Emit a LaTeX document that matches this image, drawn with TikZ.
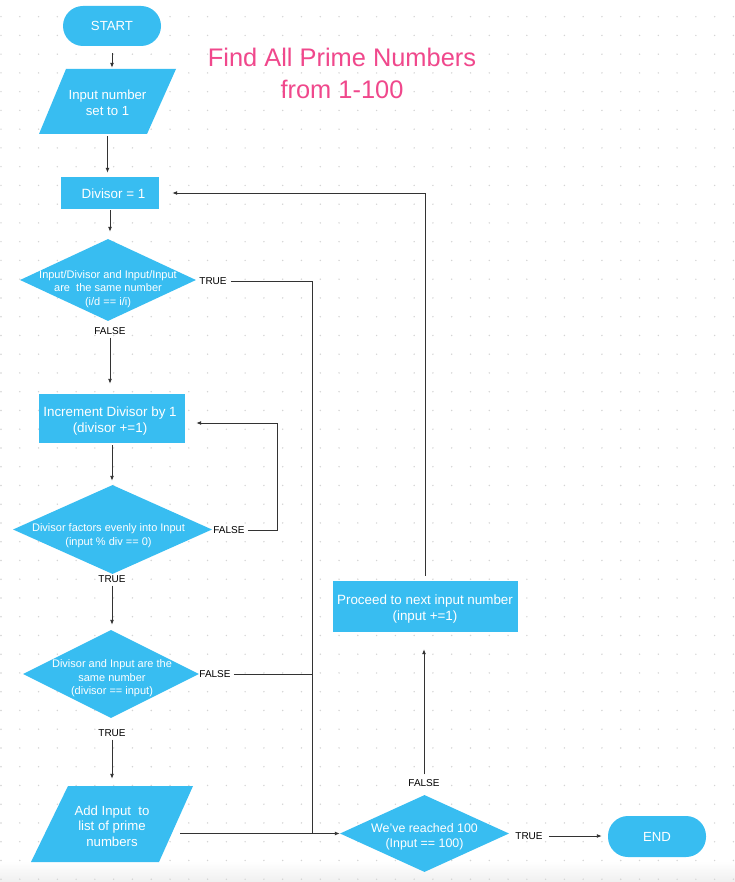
\documentclass[tikz,border=0pt]{standalone}
\usepackage{fontspec}
\setmainfont{Liberation Sans}
\usetikzlibrary{arrows.meta,shapes.geometric}
\definecolor{fcblue}{RGB}{56,189,241}
\definecolor{fcpink}{RGB}{240,72,140}
\definecolor{fcline}{RGB}{51,51,51}
\definecolor{fcdot}{RGB}{212,212,212}
\begin{document}
\begin{tikzpicture}[x=1pt,y=-1pt,
  box/.style={fill=fcblue,text=white,inner sep=0pt,align=center,font=\fontsize{13.2}{15.8}\selectfont},
  term/.style={box,rounded corners=20pt,minimum width=98pt,minimum height=40pt},
  procbox/.style={fill=fcblue,rectangle,inner sep=0pt},
  btext/.style={text=white,inner sep=0pt,align=center,font=\fontsize{13.4}{16}\selectfont},
  dshape/.style={diamond,fill=fcblue,inner sep=0pt},
  dtext/.style={text=white,inner sep=0pt,align=center,font=\fontsize{11}{13.6}\selectfont},
  ptext/.style={text=white,inner sep=0pt,align=center,font=\fontsize{13.2}{15.6}\selectfont},
  lab/.style={inner sep=1pt,font=\fontsize{10}{11}\selectfont,text=black},
  conn/.style={draw=fcline,line width=0.9pt},
  arr/.style={conn,-{Latex[length=5pt,width=4pt]}}
]
\useasboundingbox (0,0) rectangle (735,882);
\fill[white] (0,0) rectangle (735,882);
\shade[top color=white,bottom color=black!6] (0,861) rectangle (735,882);
\foreach \i in {0,...,39}{
  \foreach \j in {0,...,46}{
    \fill[fcdot] ({1+18.78*\i},{16.7+18.75*\j}) circle (0.8pt);
  }
}

% title
\node[text=fcpink,align=center,font=\fontsize{25.4}{32}\selectfont] (title) at (342,73) {Find All Prime Numbers\\from 1-100};

% terminals
\node[term] (start) at (112,26) {START};
\node[term,minimum height=41pt] (end) at (657,836.5) {\raisebox{-1pt}{END}};

% parallelograms
\fill[fcblue] (66,69) -- (176,69) -- (147,134) -- (39,134) -- cycle;
\node[minimum width=110pt,minimum height=65pt,inner sep=0pt] (p1) at (107.5,101.5) {};
\node[ptext] (p1t) at (107.5,102.5) {Input number\\set to 1};
\fill[fcblue] (68,786) -- (193,786) -- (159,862) -- (31,862) -- cycle;
\node[minimum width=136pt,minimum height=76pt,inner sep=0pt] (p2) at (112,824) {};
\node[ptext] (p2t) at (112,826) {Add Input~ to\\list of prime\\numbers};

% process boxes
\node[procbox,minimum width=98pt,minimum height=32pt] (div1) at (110,193) {};
\node[btext] (div1t) at (113.5,194) {Divisor = 1};
\node[procbox,minimum width=146pt,minimum height=49pt] (r2) at (112,418.5) {};
\node[btext] (r2t) at (110,421) {Increment Divisor by 1\\(divisor +=1)};
\node[procbox,minimum width=185pt,minimum height=51pt] (r3) at (425,606.5) {};
\node[btext] (r3t) at (425,609) {Proceed to next input number\\(input +=1)};

% decisions
\node[dshape,minimum width=176pt,minimum height=82pt] (d1) at (108,280) {};
\node[dtext] (d1t) at (108,289) {Input/Divisor and Input/Input\\are~ the same number\\(i/d == i/i)};
\node[dshape,minimum width=199pt,minimum height=89pt] (d2) at (112.5,529.5) {};
\node[dtext] (d2t) at (108.5,535.5) {Divisor factors evenly into Input\\(input \% div == 0)};
\node[dshape,minimum width=176pt,minimum height=88pt] (d3) at (111,674) {};
\node[dtext] (d3t) at (112,678.5) {Divisor and Input are the\\same number\\(divisor == input)};
\node[dshape,minimum width=169pt,minimum height=77pt] (d4) at (424.5,833.5) {};
\node[dtext,font=\fontsize{12.4}{15.5}\selectfont] (d4t) at (424.5,837) {We've reached 100\\(Input == 100)};

% labels
\node[lab] (t1) at (213,281) {TRUE};
\node[lab] (f1) at (110,331) {FALSE};
\node[lab] (f2) at (229,530) {FALSE};
\node[lab] (t2) at (112,579) {TRUE};
\node[lab] (f3) at (215,674) {FALSE};
\node[lab] (t3) at (112,733) {TRUE};
\node[lab] (t4) at (529,836) {TRUE};
\node[lab] (f4) at (424,783) {FALSE};

\coordinate (jn) at (312,833);
\coordinate (lp) at (277,423);

% connectors
\draw[arr,shorten <=7pt,shorten >=1pt] (start.south) -- (start.south |- p1.north);
\draw[arr,shorten <=2pt,shorten >=4pt] (p1.south) -- (p1.south |- div1.north);
\draw[arr,shorten <=1pt,shorten >=7pt] (div1.south) -- (div1.south |- d1.north);
\draw[arr,shorten <=2pt,shorten >=10pt] (f1.south) -- (f1.south |- r2.north);
\draw[conn,shorten <=3pt] (t1.east) -- (t1.east -| jn) -- (jn);
\draw[arr,shorten <=2pt,shorten >=4pt] (r2.south) -- (r2.south |- d2.north);
\draw[arr,shorten <=2pt] (f2.east) -| (lp) -- ([xshift=11pt]r2.east |- lp);
\draw[arr,shorten <=2pt,shorten >=5pt] (t2.south) -- (t2.south |- d3.north);
\draw[conn,shorten <=2pt] (f3.east) -- (f3.east -| jn);
\draw[arr,shorten <=2pt,shorten >=7pt] (t3.south) -- (t3.south |- p2.north);
\draw[arr] (p2.east |- d4.west) -- (d4.west);
\draw[arr,shorten <=5pt,shorten >=6pt] (t4.east) -- (end.west |- t4.east);
\draw[arr,shorten <=4pt,shorten >=17pt] (f4.north) -- (f4.north |- r3.south);
\draw[arr,shorten <=5pt] (r3.north) -- (r3.north |- div1.east) -- ([xshift=13pt]div1.east);
\end{tikzpicture}
\end{document}
